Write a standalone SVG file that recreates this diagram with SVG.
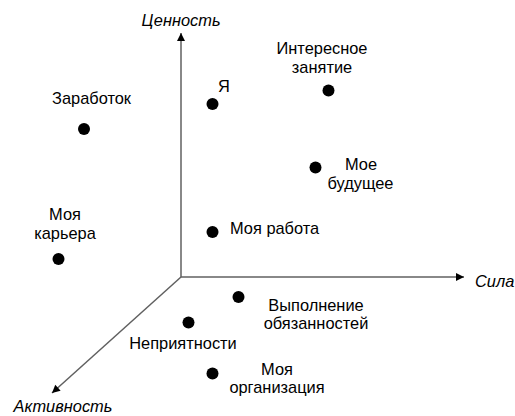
<svg xmlns="http://www.w3.org/2000/svg" width="515" height="416" viewBox="0 0 515 416">
<style>
.t{font-family:"Liberation Sans",Arial,sans-serif;font-size:16.4px;fill:#000}
.ax{font-style:italic}
.m{text-anchor:middle}
.ln{stroke:#606060;stroke-width:1.5;fill:none}
.d{fill:#000}
</style>
<defs>
<marker id="ah" viewBox="0 0 10 10" refX="10" refY="5" markerWidth="10" markerHeight="8" markerUnits="userSpaceOnUse" orient="auto">
<path d="M0,0 L10,5 L0,10 z" fill="#000"/>
</marker>
</defs>
<rect width="515" height="416" fill="#fff"/>
<g id="connectors">
<line class="ln" x1="181" y1="277" x2="181" y2="33" marker-end="url(#ah)"/>
<line class="ln" x1="181" y1="277" x2="464" y2="277" marker-end="url(#ah)"/>
<line class="ln" x1="181" y1="277" x2="52" y2="393" marker-end="url(#ah)"/>
</g>
<g id="axis-value"><text class="t ax m" x="181" y="26">Ценность</text></g>
<g id="axis-force"><text class="t ax" x="475" y="287">Сила</text></g>
<g id="axis-activity"><text class="t ax m" x="63" y="412">Активность</text></g>
<g id="ya"><circle class="d" cx="212.5" cy="104" r="6"/><text class="t" x="218" y="92">Я</text></g>
<g id="zarabotok"><circle class="d" cx="84" cy="129" r="6"/><text class="t m" x="91.5" y="104">Заработок</text></g>
<g id="interesnoe"><circle class="d" cx="328.5" cy="90.5" r="6"/><text class="t m" x="322" y="54">Интересное</text><text class="t m" x="322" y="73">занятие</text></g>
<g id="moe-budushee"><circle class="d" cx="315.5" cy="167.5" r="6"/><text class="t m" x="361" y="170">Мое</text><text class="t m" x="360.5" y="188.5">будущее</text></g>
<g id="moya-karera"><circle class="d" cx="58.5" cy="259" r="6"/><text class="t m" x="65" y="220">Моя</text><text class="t m" x="65" y="238.5">карьера</text></g>
<g id="moya-rabota"><circle class="d" cx="212.5" cy="232" r="6"/><text class="t" x="230" y="234">Моя работа</text></g>
<g id="vypolnenie"><circle class="d" cx="238.5" cy="297" r="6"/><text class="t m" x="316" y="310.5">Выполнение</text><text class="t m" x="316" y="329">обязанностей</text></g>
<g id="nepriyatnosti"><circle class="d" cx="188.5" cy="322.5" r="6"/><text class="t m" x="183" y="349">Неприятности</text></g>
<g id="moya-organizatsiya"><circle class="d" cx="212.5" cy="373.5" r="6"/><text class="t m" x="277" y="374.5">Моя</text><text class="t m" x="277" y="393">организация</text></g>
</svg>
